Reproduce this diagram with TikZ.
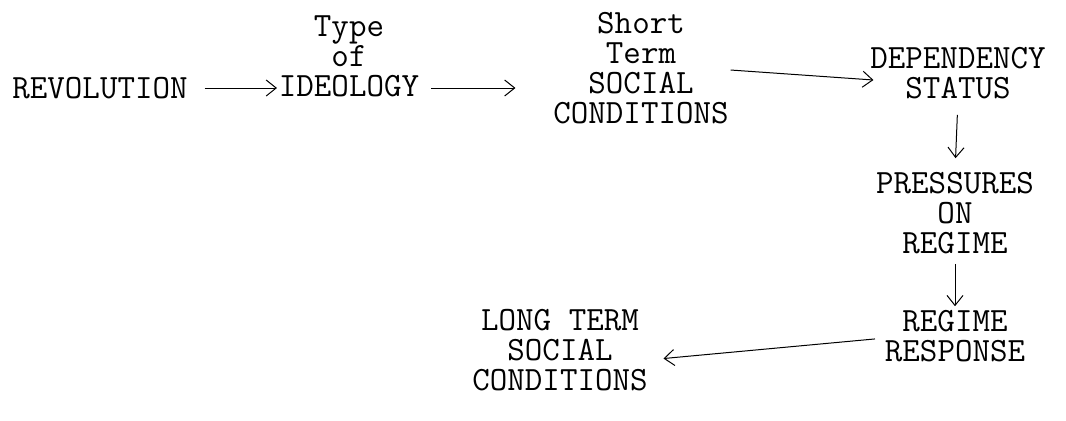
\documentclass[tikz,border=0pt]{standalone}
\usepackage{fontspec}
\usetikzlibrary{arrows.meta,calc}
\begin{document}
\begin{tikzpicture}[x=0.5pt, y=-0.5pt, font=\ttfamily\fontsize{17}{15}\selectfont, every node/.style={align=center, inner sep=0pt, outer sep=0pt}, link/.style={-{Straight Barb[length=5pt, width=8pt]}, line width=0.5pt}]
        \useasboundingbox (0, 0) rectangle (1066, 420);
        
        \node (rev) at (100, 88) {REVOLUTION};
        \node (ideo) at (349, 56) {Type\\of\\IDEOLOGY};
        \node (stsc) at (641, 68) {Short\\Term\\SOCIAL\\CONDITIONS};
        \node (dep) at (958, 73) {DEPENDENCY\\STATUS};
        \node (press) at (955, 213) {PRESSURES\\ON\\REGIME};
        \node (resp) at (955, 336) {REGIME\\RESPONSE};
        \node (ltsc) at (560, 350) {LONG TERM\\SOCIAL\\CONDITIONS};
        
        \draw[link, shorten <=8.5pt, shorten >=1pt] (rev.east) -- (rev.east -| ideo.west);
        \draw[link, shorten <=6pt, shorten >=19pt] (rev.east -| ideo.east) -- (rev.east -| stsc.west);
        \draw[link] ($(stsc.east)+(2, 2)$) -- ($(dep.west)+(3, 7)$);
        \draw[link, shorten <=8pt, shorten >=7pt] (dep.south) -- (press.north);
        \draw[link, shorten <=5pt, shorten >=2pt] (press.south) -- (resp.north);
        \draw[link, shorten <=5pt, shorten >=8pt] ($(resp.west)+(0, 2)$) -- ($(ltsc.east)+(0, 10)$);
\end{tikzpicture}
\end{document}
